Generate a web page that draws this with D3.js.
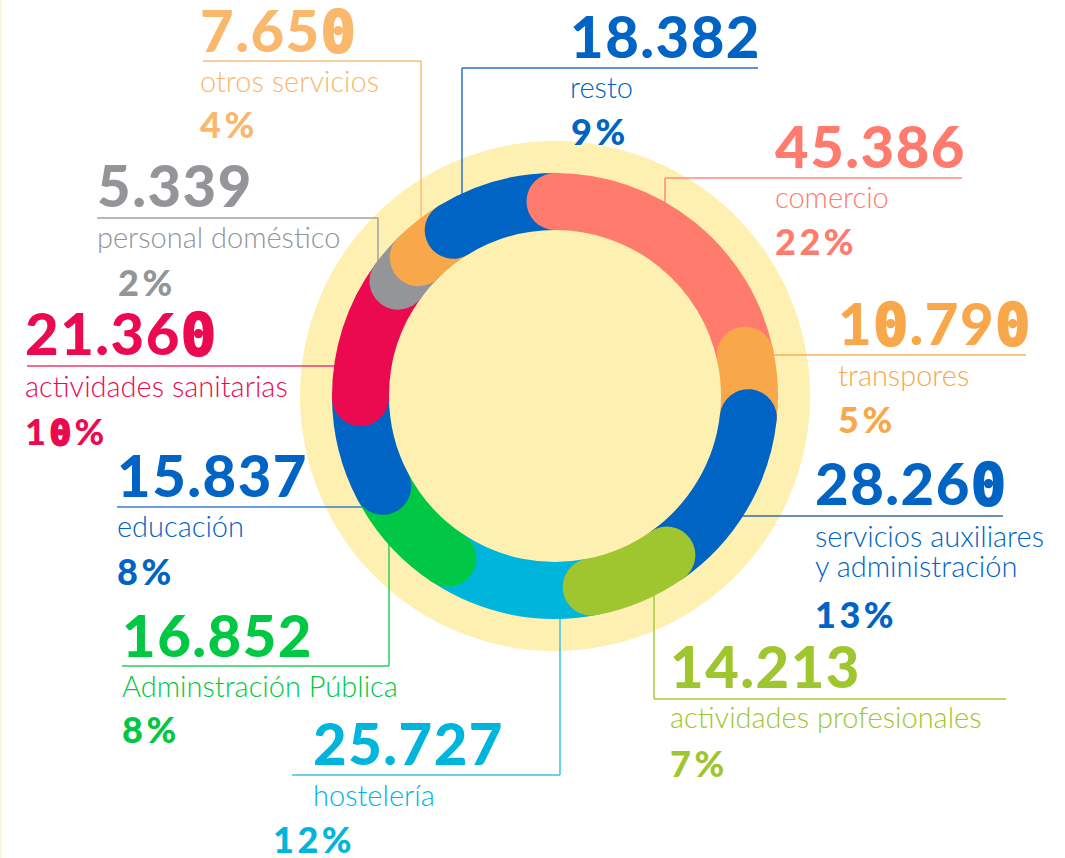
<!DOCTYPE html>
<html>
<head>
<meta charset="utf-8">
<script src="https://cdn.jsdelivr.net/npm/d3@7"></script>
<style>
  html, body { margin: 0; padding: 0; background: #ffffff; }
  svg { display: block; }
</style>
</head>
<body>
<svg id="chart" width="1065" height="858"></svg>
<script>
// ---------------- data ----------------
const categories = [
  "comercio",
  "transpores",
  "servicios auxiliares\ny administración",
  "actividades profesionales",
  "hostelería",
  "Adminstración Pública",
  "educación",
  "actividades sanitarias",
  "personal doméstico",
  "otros servicios",
  "resto"
];
const values = [45386, 10790, 28260, 14213, 25727, 16852, 15837, 21360, 5339, 7650, 18382];
const percentLabels = ["22%", "5%", "13%", "7%", "12%", "8%", "8%", "10%", "2%", "4%", "9%"];

// ---------------- styles ----------------
const ringColors = ["#FF7B6E", "#F8A84A", "#0064C4", "#A0C62F", "#00B5DC", "#00C844",
                    "#0064C4", "#EB0A50", "#939598", "#F8A84A", "#0064C4"];
const textColors = ["#FF7B6E", "#F8A84A", "#0064C4", "#A0C62F", "#00B5DC", "#00C844",
                    "#0064C4", "#EB0A50", "#939598", "#F9B86C", "#0064C4"];
const ruleColors = ["#FF8A7E", "#F8AE5A", "#3A6C9E", "#A6CA3C", "#3CC2E2", "#2ACD5E",
                    "#3A7FCC", "#EE3A6C", "#A0A2A5", "#F9BE7C", "#2A72C0"];

// layout: text anchor x, baselines, rule y, rule extent, leader type
const layout = [
  {x: 775, num: 168, rule: 178, rx0: 665, rx1: 962,  lead: "v", lx: 665, lab: 208, px: 775, pct: 255},
  {x: 838, num: 345, rule: 355, rx0: null, rx1: 1026, lead: "hr", lab: 386, px: 838, pct: 433},
  {x: 815, num: 505, rule: 516, rx0: null, rx1: 1003, lead: "hr", lab: 547, px: 815, pct: 628},
  {x: 670, num: 688, rule: 699, rx0: 654, rx1: 1006, lead: "v", lx: 654, lab: 728, px: 670, pct: 777},
  {x: 313, num: 765, rule: 775, rx0: 292, rx1: 560,  lead: "v", lx: 560, lab: 806, px: 273, pct: 853},
  {x: 122, num: 657, rule: 666, rx0: 122, rx1: 389,  lead: "v", lx: 389, lab: 697, px: 122, pct: 743},
  {x: 117, num: 497, rule: 507, rx0: 117, rx1: null, lead: "hl", lab: 537, px: 117, pct: 585},
  {x: 25,  num: 355, rule: 366, rx0: 27,  rx1: null, lead: "hl", lab: 397, px: 25,  pct: 445},
  {x: 97,  num: 207, rule: 218, rx0: 97,  rx1: 378,  lead: "v", lx: 378, lab: 248, px: 118, pct: 296},
  {x: 200, num: 52,  rule: 61,  rx0: 203, rx1: 421,  lead: "v", lx: 421, lab: 92,  px: 200, pct: 138},
  {x: 570, num: 58,  rule: 68,  rx0: 462, rx1: 758,  lead: "v", lx: 462, lab: 98,  px: 571, pct: 145}
];

// ---------------- geometry ----------------
const cx = 555, cy = 396;
const bgRadius = 255;
const outerR = 223, innerR = 166;
const midR = (outerR + innerR) / 2;
const bandW = outerR - innerR;

const svg = d3.select("#chart");
const esFormat = d3.formatLocale({decimal: ",", thousands: ".", grouping: [3], currency: ["", "€"]}).format(",d");

// faint left border
svg.append("rect").attr("x", 0).attr("y", 0).attr("width", 2).attr("height", 858).attr("fill", "#FCF6DC");

// yellow disc
svg.append("circle").attr("cx", cx).attr("cy", cy).attr("r", bgRadius).attr("fill", "#FDF0B0");

const data = categories.map((c, i) => ({cat: c, value: values[i], pct: percentLabels[i], i}));
const pie = d3.pie().value(d => d.value).sort(null);
const arcs = pie(data);

// ---------------- leader lines ----------------
const leaders = svg.append("g").attr("fill", "none").attr("stroke-width", 1.5);
arcs.forEach((a, i) => {
  const L = layout[i];
  const p = d3.path();
  if (L.lead === "v") {
    const dx = L.lx - cx;
    const dy = Math.sqrt(midR * midR - dx * dx);
    const ringY = L.rule < cy ? cy - dy : cy + dy;
    p.moveTo(L.rx0, L.rule);
    p.lineTo(L.rx1, L.rule);
    p.moveTo(L.lx, L.rule);
    p.lineTo(L.lx, ringY);
  } else {
    const dy = L.rule - cy;
    const dx = Math.sqrt(midR * midR - dy * dy);
    if (L.lead === "hr") {
      p.moveTo(cx + dx, L.rule);
      p.lineTo(L.rx1, L.rule);
    } else {
      p.moveTo(L.rx0, L.rule);
      p.lineTo(cx - dx, L.rule);
    }
  }
  leaders.append("path").attr("d", p.toString()).attr("stroke", ruleColors[i]);
});

// ---------------- ring segments (round caps, layered) ----------------
const n = arcs.length;
const startIdx = 4; // layering begins with hostelería and goes clockwise
const drawOrder = d3.range(n).map(k => (startIdx + k) % n);
const ring = svg.append("g").attr("fill", "none")
  .attr("stroke-width", bandW).attr("stroke-linecap", "round");
drawOrder.forEach(i => {
  const a = arcs[i];
  const p = d3.path();
  p.arc(cx, cy, midR, a.startAngle - Math.PI / 2, a.endAngle - Math.PI / 2);
  ring.append("path").attr("d", p.toString()).attr("stroke", ringColors[i]);
});

// ---------------- labels ----------------
const numFont = "Lato, 'Open Sans', sans-serif";
const labels = svg.append("g");

function addDigits(textSel, str, col) {
  // zeros are rendered with a slashed glyph, as in the source artwork
  const parts = str.split(/(0)/).filter(s => s.length);
  parts.forEach(s => {
    const t = textSel.append("tspan").text(s);
    if (s === "0") {
      t.attr("font-family", "'DejaVu Sans Mono', monospace").attr("font-weight", 700)
       .attr("stroke", col).attr("stroke-width", 2.2).attr("stroke-linejoin", "round");
    }
  });
}

arcs.forEach((a, i) => {
  const L = layout[i];
  const col = textColors[i];
  const g = labels.append("g").attr("fill", col);

  const num = g.append("text")
    .attr("x", L.x).attr("y", L.num)
    .attr("font-family", numFont).attr("font-weight", 900)
    .attr("font-size", 58).attr("letter-spacing", 1.5);
  addDigits(num, esFormat(a.data.value), col);

  const lines = a.data.cat.split("\n");
  lines.forEach((ln, k) => {
    g.append("text")
      .attr("x", L.x).attr("y", L.lab + k * 30)
      .attr("font-family", "Lato, sans-serif").attr("font-weight", 300)
      .attr("font-size", 29)
      .text(ln);
  });

  const pct = g.append("text")
    .attr("x", L.px).attr("y", L.pct)
    .attr("font-family", numFont).attr("font-weight", 900)
    .attr("font-size", 36).attr("letter-spacing", 3.5);
  addDigits(pct, a.data.pct, col);
});
</script>
</body>
</html>
